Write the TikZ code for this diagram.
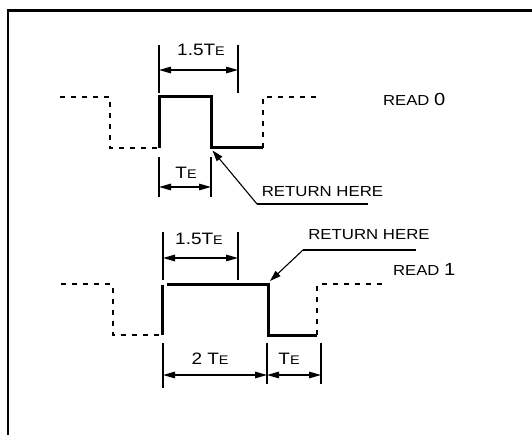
\documentclass[tikz,border=0pt]{standalone}
\usepackage{graphicx}
\usepackage{fontspec}
\setmainfont{Liberation Sans}
\usetikzlibrary{arrows.meta}
\newcommand{\hstretch}[1]{\scalebox{1.15}[1]{#1}}
\newcommand{\te}{T{\fontsize{12.5}{13}\selectfont E}}

\begin{document}
\begin{tikzpicture}[x=1pt,y=-1pt,every node/.style={inner sep=0pt,font=\fontsize{16.5}{18}\selectfont},
  wave/.style={line width=3pt},
  dwave/.style={line width=2pt,dash pattern=on 5pt off 6pt},
  tickln/.style={line width=2pt},
  dimln/.style={line width=1.4pt,{Triangle[length=12pt,width=6.5pt]}-{Triangle[length=12pt,width=6.5pt]}},
  leadln/.style={line width=1.3pt},
  leadarr/.style={line width=1.1pt,-{Triangle[length=11pt,width=7pt]}}]
\useasboundingbox (0,0) rectangle (532,435);
\draw[line width=2.3pt] (7.8,436) -- (7.8,10.5) -- (533,10.5);
\coordinate (a0) at (60,97);
\coordinate (a1) at (110,97);
\coordinate (a2) at (110,148);
\coordinate (a3) at (159,148);
\coordinate (a4) at (159,97);
\coordinate (a5) at (211,97);
\coordinate (a6) at (211,148);
\coordinate (a7) at (263,148);
\coordinate (a8) at (263,97);
\coordinate (a9) at (320,97);
\draw[dwave] (a0)--(a1)--(a2)--(a3);
\draw[wave] (a3)--(a4)--(a5)--(a6)--(a7);
\draw[dwave] (a7)--(a8)--(a9);
\coordinate (p1) at (159,45);\coordinate (p2) at (159,93);
\coordinate (p3) at (238,45);\coordinate (p4) at (238,93);
\draw[tickln] (p1)--(p2);\draw[tickln] (p3)--(p4);
\coordinate (d1) at (159,70);\coordinate (d2) at (238,70);
\draw[dimln] (d1)--(d2);
\node (t15a) at (201,50) {\hstretch{1.5\te}};
\coordinate (p5) at (159,157);\coordinate (p6) at (159,197);
\coordinate (p7) at (211,157);\coordinate (p8) at (211,197);
\draw[tickln] (p5)--(p6);\draw[tickln] (p7)--(p8);
\coordinate (d3) at (159,187);\coordinate (d4) at (211,187);
\draw[dimln] (d3)--(d4);
\node (tea) at (186,172.5) {\hstretch{\te}};
\node (ret0) at (322.5,191.5) {\hstretch{\fontsize{14.6}{16}\selectfont RETURN HERE}};
\coordinate (r0a) at (257,204);\coordinate (r0b) at (368,204);\coordinate (r0c) at (212.5,150.5);
\draw[leadln] (r0b)--(r0a);
\draw[leadarr] (r0a)--(r0c);
\node[anchor=base west] (rd0) at (383,106) {\hstretch{\fontsize{14.5}{15}\selectfont READ \fontsize{17.5}{18}\selectfont 0}};
\coordinate (b0) at (61,284.5);
\coordinate (b1) at (113,284.5);
\coordinate (b2) at (113,335);
\coordinate (b3) at (162.5,335);
\coordinate (b4) at (162.5,285.5);
\coordinate (b5) at (167,284.5);
\coordinate (b6) at (268,284.5);
\coordinate (b7) at (268,335);
\coordinate (b8) at (317,335);
\coordinate (b9) at (317,284.5);
\coordinate (b10) at (383,284.5);
\draw[dwave] (b0)--(b1)--(b2)--(b3);
\draw[wave] (b3)--(b4);
\draw[wave] (b5)--(b6)--(b7)--(b8);
\draw[dwave] (b8)--(b9)--(b10);
\coordinate (q1) at (163,232);\coordinate (q2) at (163,280);
\coordinate (q3) at (238,232);\coordinate (q4) at (238,280);
\draw[tickln] (q1)--(q2);\draw[tickln] (q3)--(q4);
\coordinate (e1) at (163,258);\coordinate (e2) at (238,258);
\draw[dimln] (e1)--(e2);
\node (t15b) at (199,239) {\hstretch{1.5\te}};
\coordinate (q5) at (163,343);\coordinate (q6) at (163,388);
\coordinate (q7) at (267,343);\coordinate (q8) at (267,384);
\coordinate (q9) at (321,343);\coordinate (q10) at (321,384);
\draw[tickln] (q5)--(q6);\draw[tickln] (q7)--(q8);\draw[tickln] (q9)--(q10);
\coordinate (e3) at (163,375);\coordinate (e4) at (267,375);\coordinate (e5) at (321,375);
\draw[dimln] (e3)--(e4);
\draw[dimln] (e4)--(e5);
\node (t2) at (210,359) {\hstretch{2 \te}};
\node (teb) at (289,359) {\hstretch{\te}};
\node (ret1) at (369,235) {\hstretch{\fontsize{14.6}{16}\selectfont RETURN HERE}};
\coordinate (r1a) at (303,250);\coordinate (r1b) at (416,250);\coordinate (r1c) at (270,281);
\draw[leadln] (r1b)--(r1a);
\draw[leadarr] (r1a)--(r1c);
\node[anchor=base west] (rd1) at (393,276) {\hstretch{\fontsize{14.5}{15}\selectfont READ \fontsize{17.5}{18}\selectfont 1}};
\end{tikzpicture}
\end{document}
